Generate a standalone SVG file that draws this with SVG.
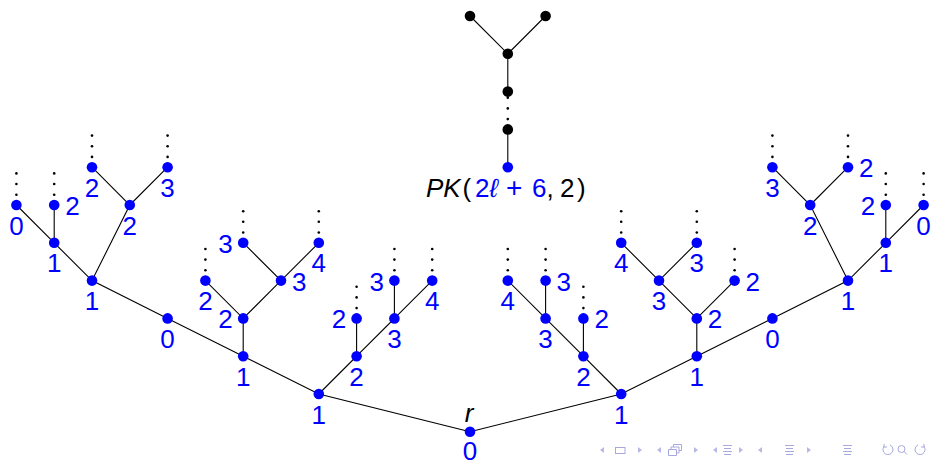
<svg xmlns="http://www.w3.org/2000/svg" width="932" height="462" viewBox="0 0 932 462">
<style>
.e{stroke:#000;stroke-width:1.1;fill:none}
.n{fill:#0000ff}
.k{fill:#000}
.t{font-family:"Liberation Sans",Arial,sans-serif;font-size:26px;fill:#0000ff}
.b{text-anchor:middle}
.l{text-anchor:end}
.blk{fill:#000}
.it{font-style:italic}
.nv{fill:#b8b8e8;stroke:none}
.nvs{fill:none;stroke:#a8a8e0;stroke-width:1}
</style>
<defs>
<g id="vd"><circle cx="0" cy="-10.3" r="1.3" class="k"/><circle cx="0" cy="-21" r="1.3" class="k"/><circle cx="0" cy="-31.6" r="1.3" class="k"/></g>
</defs>
<rect width="932" height="462" fill="#fff"/>
<g id="connectors">
<path class="e" d="M470,431.8L318.8,394L243.2,356.2L167.6,318.4L92,280.6L54.2,242.8L16.4,205M54.2,242.8L54.2,205M92,280.6L129.8,205L92,167.2M129.8,205L167.6,167.2"/>
<path class="e" d="M243.2,356.2L243.2,318.4L205.4,280.6M243.2,318.4L281,280.6L243.2,242.8M281,280.6L318.8,242.8"/>
<path class="e" d="M318.8,394L356.6,356.2L356.6,318.4M356.6,356.2L394.4,318.4L394.4,280.6M394.4,318.4L432.2,280.6"/>
<path class="e" d="M470,431.8L621.2,394L696.8,356.2L772.4,318.4L848,280.6L885.8,242.8L923.6,205M885.8,242.8L885.8,205M848,280.6L810.2,205L772.4,167.2M810.2,205L848,167.2"/>
<path class="e" d="M621.2,394L583.4,356.2L545.6,318.4L507.8,280.6M545.6,318.4L545.6,280.6M583.4,356.2L583.4,318.4"/>
<path class="e" d="M696.8,356.2L696.8,318.4L659,280.6L621.2,242.8M659,280.6L696.8,242.8M696.8,318.4L734.6,280.6"/>
<path class="e" d="M470,16L507.8,53.8L545.6,16M507.8,53.8L507.8,91.6M507.8,129.4L507.8,167.2"/>
</g>
<g id="root"><circle class="n" cx="470" cy="431.8" r="5.3"/><text class="t b" x="470" y="459.5">0</text><text class="t b blk it" x="469" y="421.5">r</text></g>
<g id="nL1"><circle class="n" cx="318.8" cy="394" r="5.3"/><text class="t b" x="318.8" y="423.5">1</text></g>
<g id="nL2"><circle class="n" cx="243.2" cy="356.2" r="5.3"/><text class="t b" x="243.2" y="385.7">1</text></g>
<g id="nL3"><circle class="n" cx="167.6" cy="318.4" r="5.3"/><text class="t b" x="167.6" y="347.9">0</text></g>
<g id="nL4"><circle class="n" cx="92" cy="280.6" r="5.3"/><text class="t b" x="92" y="310.1">1</text></g>
<g id="nL5"><circle class="n" cx="54.2" cy="242.8" r="5.3"/><text class="t b" x="54.2" y="272.3">1</text></g>
<g id="nL6a"><circle class="n" cx="16.4" cy="205" r="5.3"/><text class="t b" x="16.4" y="234.5">0</text><use href="#vd" x="16.4" y="205"/></g>
<g id="nL6b"><circle class="n" cx="54.2" cy="205" r="5.3"/><text class="t" x="65.2" y="215">2</text><use href="#vd" x="54.2" y="205"/></g>
<g id="nL6c"><circle class="n" cx="129.8" cy="205" r="5.3"/><text class="t b" x="129.8" y="234.5">2</text></g>
<g id="nL7a"><circle class="n" cx="92" cy="167.2" r="5.3"/><text class="t b" x="92" y="196.7">2</text><use href="#vd" x="92" y="167.2"/></g>
<g id="nL7b"><circle class="n" cx="167.6" cy="167.2" r="5.3"/><text class="t b" x="167.6" y="196.7">3</text><use href="#vd" x="167.6" y="167.2"/></g>
<g id="nA3"><circle class="n" cx="243.2" cy="318.4" r="5.3"/><text class="t l" x="232.7" y="328.4">2</text></g>
<g id="nA4a"><circle class="n" cx="205.4" cy="280.6" r="5.3"/><text class="t b" x="205.4" y="310.1">2</text><use href="#vd" x="205.4" y="280.6"/></g>
<g id="nA4b"><circle class="n" cx="281" cy="280.6" r="5.3"/><text class="t" x="292" y="290.6">3</text></g>
<g id="nA5a"><circle class="n" cx="243.2" cy="242.8" r="5.3"/><text class="t l" x="232.7" y="252.8">3</text><use href="#vd" x="243.2" y="242.8"/></g>
<g id="nA5b"><circle class="n" cx="318.8" cy="242.8" r="5.3"/><text class="t b" x="318.8" y="272.3">4</text><use href="#vd" x="318.8" y="242.8"/></g>
<g id="nB2"><circle class="n" cx="356.6" cy="356.2" r="5.3"/><text class="t b" x="356.6" y="385.7">2</text></g>
<g id="nB3a"><circle class="n" cx="356.6" cy="318.4" r="5.3"/><text class="t l" x="346.1" y="328.4">2</text><use href="#vd" x="356.6" y="318.4"/></g>
<g id="nB3b"><circle class="n" cx="394.4" cy="318.4" r="5.3"/><text class="t b" x="394.4" y="347.9">3</text></g>
<g id="nB4a"><circle class="n" cx="394.4" cy="280.6" r="5.3"/><text class="t l" x="383.9" y="290.6">3</text><use href="#vd" x="394.4" y="280.6"/></g>
<g id="nB4b"><circle class="n" cx="432.2" cy="280.6" r="5.3"/><text class="t b" x="432.2" y="310.1">4</text><use href="#vd" x="432.2" y="280.6"/></g>
<g id="nR1"><circle class="n" cx="621.2" cy="394" r="5.3"/><text class="t b" x="621.2" y="423.5">1</text></g>
<g id="nC2"><circle class="n" cx="583.4" cy="356.2" r="5.3"/><text class="t b" x="583.4" y="385.7">2</text></g>
<g id="nC3a"><circle class="n" cx="545.6" cy="318.4" r="5.3"/><text class="t b" x="545.6" y="347.9">3</text></g>
<g id="nC4a"><circle class="n" cx="507.8" cy="280.6" r="5.3"/><text class="t b" x="507.8" y="310.1">4</text><use href="#vd" x="507.8" y="280.6"/></g>
<g id="nC4b"><circle class="n" cx="545.6" cy="280.6" r="5.3"/><text class="t" x="556.6" y="290.6">3</text><use href="#vd" x="545.6" y="280.6"/></g>
<g id="nC3b"><circle class="n" cx="583.4" cy="318.4" r="5.3"/><text class="t" x="594.4" y="328.4">2</text><use href="#vd" x="583.4" y="318.4"/></g>
<g id="nR2"><circle class="n" cx="696.8" cy="356.2" r="5.3"/><text class="t b" x="696.8" y="385.7">1</text></g>
<g id="nD3"><circle class="n" cx="696.8" cy="318.4" r="5.3"/><text class="t" x="707.8" y="328.4">2</text></g>
<g id="nD4a"><circle class="n" cx="659" cy="280.6" r="5.3"/><text class="t b" x="659" y="310.1">3</text></g>
<g id="nD4b"><circle class="n" cx="734.6" cy="280.6" r="5.3"/><text class="t" x="745.6" y="290.6">2</text><use href="#vd" x="734.6" y="280.6"/></g>
<g id="nD5a"><circle class="n" cx="621.2" cy="242.8" r="5.3"/><text class="t b" x="621.2" y="272.3">4</text><use href="#vd" x="621.2" y="242.8"/></g>
<g id="nD5b"><circle class="n" cx="696.8" cy="242.8" r="5.3"/><text class="t b" x="696.8" y="272.3">3</text><use href="#vd" x="696.8" y="242.8"/></g>
<g id="nR3"><circle class="n" cx="772.4" cy="318.4" r="5.3"/><text class="t b" x="772.4" y="347.9">0</text></g>
<g id="nR4"><circle class="n" cx="848" cy="280.6" r="5.3"/><text class="t b" x="848" y="310.1">1</text></g>
<g id="nR6c"><circle class="n" cx="810.2" cy="205" r="5.3"/><text class="t b" x="810.2" y="234.5">2</text></g>
<g id="nR7a"><circle class="n" cx="772.4" cy="167.2" r="5.3"/><text class="t b" x="772.4" y="196.7">3</text><use href="#vd" x="772.4" y="167.2"/></g>
<g id="nR7b"><circle class="n" cx="848" cy="167.2" r="5.3"/><text class="t" x="859" y="177.2">2</text><use href="#vd" x="848" y="167.2"/></g>
<g id="nR5"><circle class="n" cx="885.8" cy="242.8" r="5.3"/><text class="t b" x="885.8" y="272.3">1</text></g>
<g id="nR6b"><circle class="n" cx="885.8" cy="205" r="5.3"/><text class="t l" x="875.3" y="215">2</text><use href="#vd" x="885.8" y="205"/></g>
<g id="nR6a"><circle class="n" cx="923.6" cy="205" r="5.3"/><text class="t b" x="923.6" y="234.5">0</text><use href="#vd" x="923.6" y="205"/></g>
<g id="pk1"><circle class="k" cx="470" cy="16" r="5.3"/></g>
<g id="pk2"><circle class="k" cx="545.6" cy="16" r="5.3"/></g>
<g id="pk3"><circle class="k" cx="507.8" cy="53.8" r="5.3"/></g>
<g id="pk4"><circle class="k" cx="507.8" cy="91.6" r="5.3"/></g>
<g id="pk5"><circle class="k" cx="507.8" cy="129.4" r="5.3"/><use href="#vd" x="507.8" y="129.4"/></g>
<g id="pk6"><circle class="n" cx="507.8" cy="167.2" r="5.3"/>
<text class="t blk" y="197"><tspan class="it" x="426">PK</tspan><tspan x="462.5">(</tspan><tspan class="t" x="475">2</tspan><tspan class="t it" x="489.5">ℓ</tspan><tspan class="t" x="506" style="font-size:28px">+</tspan><tspan class="t" x="532">6</tspan><tspan x="546.5">,</tspan><tspan x="560">2</tspan><tspan x="577">)</tspan></text></g>
<g id="nav">
<path class="nv" d="M604,447L600,450L604,453ZM638,447L642,450L638,453ZM661,447L657,450L661,453ZM694,447L698,450L694,453ZM717,447L713,450L717,453ZM739,447L743,450L739,453ZM762,447L758,450L762,453ZM807,447L811,450L807,453Z"/>
<rect class="nvs" x="615.5" y="447.5" width="9.5" height="6"/>
<path class="nvs" d="M668.5,449.5h8v6h-8zM671,449.5v-2.5h8v6h-2.5M673.5,447v-2.5h8v6h-2.5"/>
<path class="nvs" d="M723,445.5h9M724,448.5h7M723,451.5h9M724,454.5h7M785,445.5h9M786,448.5h7M785,451.5h9M786,454.5h7M843,445.5h9M844,448.5h7M843,451.5h9M844,454.5h7"/>
<path class="nvs" d="M884,446.5a5,5 0 1,0 6,-1.5M884,444v3h3"/>
<circle class="nvs" cx="901.5" cy="449" r="3.5"/><path class="nvs" d="M904,451.5l3,3"/>
<path class="nvs" d="M924,446.5a5,5 0 1,1 -6,-1.5M924,444v3h-3"/>
</g>
</svg>
